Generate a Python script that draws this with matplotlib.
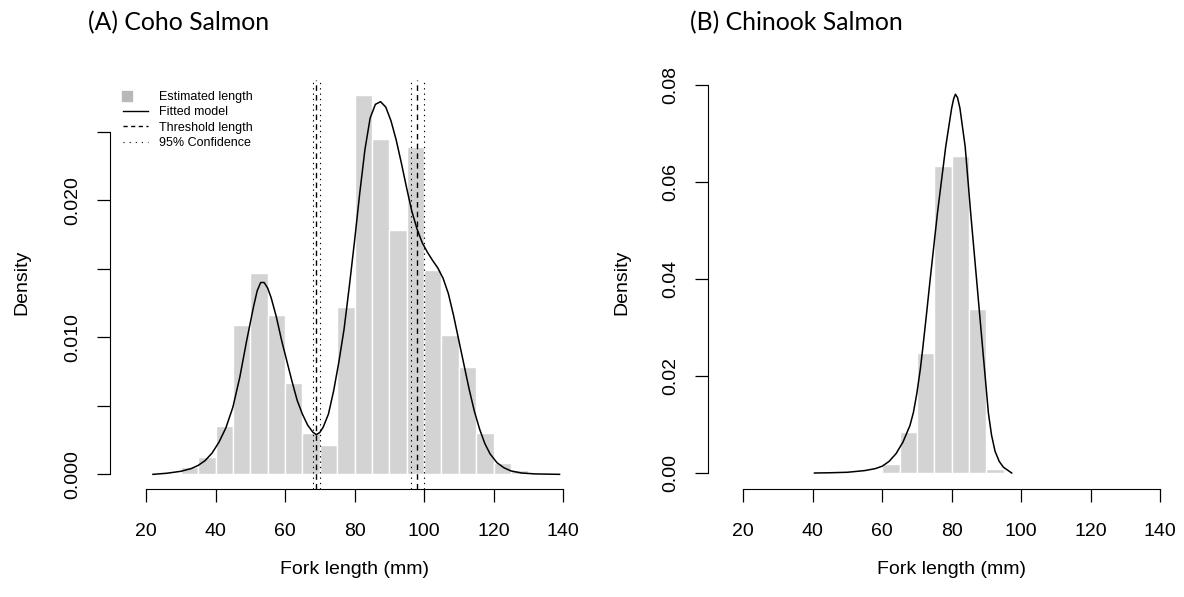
import numpy as np
import matplotlib
matplotlib.use("Agg")
from matplotlib import pyplot as plt
from matplotlib.lines import Line2D
from matplotlib.legend_handler import HandlerLine2D

plt.rcParams['font.family'] = ['Liberation Sans', 'DejaVu Sans']

# ---- data ----
bin_width = 5
coho_bin_starts = [30, 35, 40, 45, 50, 55, 60, 65, 70, 75, 80, 85, 90, 95, 100, 105, 110, 115, 120, 125]
coho_density = [0.00056, 0.00125, 0.0035, 0.0109, 0.0147, 0.0116, 0.00665, 0.00305, 0.00217, 0.0122,
                0.0277, 0.0245, 0.0178, 0.0239, 0.0149, 0.0102, 0.0078, 0.00305, 0.0008, 0.00032]

coho_curve_x = [22, 26, 30, 33, 35, 37, 39, 41, 43, 45, 47, 49, 51, 52, 53, 54, 55, 56, 57.5, 59,
                60.5, 62, 63.5, 65, 66.5, 68, 69, 70, 71, 72.5, 74, 75.5, 77, 78.5, 80, 81.5, 83,
                84.5, 86, 87.5, 89, 90.5, 92, 93.5, 95, 96.5, 98, 99.5, 101, 102.5, 104, 105.5,
                107, 108.5, 110, 111.5, 113, 114.5, 116, 117.5, 119, 121, 123, 125, 128, 132, 139]
coho_curve_y = [0.0, 0.00008, 0.00022, 0.00042, 0.00065, 0.001, 0.00155, 0.00235, 0.0034, 0.0049,
                0.0071, 0.0098, 0.0123, 0.0134, 0.0140, 0.0140, 0.0136, 0.0129, 0.0115, 0.0098,
                0.0083, 0.0068, 0.0054, 0.0044, 0.0036, 0.00308, 0.0029, 0.00305, 0.00345, 0.0044,
                0.0061, 0.0082, 0.0106, 0.0137, 0.0170, 0.0205, 0.0237, 0.0260, 0.0270, 0.0272,
                0.0268, 0.0258, 0.0244, 0.0227, 0.0209, 0.0192, 0.0179, 0.0169, 0.0162, 0.0156,
                0.01505, 0.0143, 0.0132, 0.0116, 0.0098, 0.008, 0.0062, 0.0046, 0.0033, 0.00225,
                0.0015, 0.00085, 0.00048, 0.00025, 0.0001, 0.00003, 0.0]

coho_threshold = [69.0, 98.0]
coho_ci = [68.1, 70.0, 96.2, 100.0]

chinook_bin_starts = [45, 50, 55, 60, 65, 70, 75, 80, 85, 90]
chinook_density = [0.0003, 0.0, 0.0, 0.0019, 0.0084, 0.0248, 0.0634, 0.0654, 0.0338, 0.0008]

chinook_curve_x = [40.5, 45, 50, 55, 58, 60, 62, 64, 66, 68, 69, 70, 71, 71.7, 72.8, 73.8, 75.9,
                   78.3, 80, 80.6, 81.1, 81.7, 82.4, 83.9, 85.5, 87.2, 88.9, 90.6, 91.5, 92.5,
                   93.7, 94.9, 97.3]
chinook_curve_y = [0.0, 0.00005, 0.00015, 0.0005, 0.0009, 0.0014, 0.0024, 0.0040, 0.0064, 0.0098,
                   0.0125, 0.0165, 0.0215, 0.0258, 0.0330, 0.0398, 0.0535, 0.0673, 0.0752, 0.0772,
                   0.0781, 0.0774, 0.0752, 0.0673, 0.0535, 0.0398, 0.0260, 0.0123, 0.0078, 0.0045,
                   0.0024, 0.0012, 0.0]

x_ticks = [20, 40, 60, 80, 100, 120, 140]
coho_yticks = [0, 0.005, 0.010, 0.015, 0.020, 0.025]
coho_ylabels = ['0.000', '', '0.010', '', '0.020', '']
chinook_yticks = [0, 0.02, 0.04, 0.06, 0.08]
chinook_ylabels = ['0.00', '0.02', '0.04', '0.06', '0.08']

BAR = '#d3d3d3'
FS = 14
W, H = 1184, 597


class LeftMarker(HandlerLine2D):
    # put the square near the left end of the handle, like R's legend()
    def create_artists(self, legend, orig_handle, xdescent, ydescent, width, height,
                       fontsize, trans):
        y = (height - ydescent) / 2
        mk = Line2D([-xdescent + 0.16 * width], [y])
        self.update_prop(mk, orig_handle, legend)
        mk.set_linestyle('none')
        mk.set_transform(trans)
        return [mk]


def style_axes(ax, yticks, ylabels):
    for s in ['top', 'right']:
        ax.spines[s].set_visible(False)
    ax.spines['bottom'].set_bounds(x_ticks[0], x_ticks[-1])
    ax.spines['left'].set_bounds(yticks[0], yticks[-1])
    ax.set_xticks(x_ticks)
    ax.set_yticks(yticks)
    ax.set_yticklabels(ylabels, rotation=90, va='center')
    ax.tick_params(direction='out', length=9.4, width=0.9, labelsize=FS, pad=11)
    ax.tick_params(axis='x', pad=15)
    ax.patch.set_visible(False)


fig = plt.figure(figsize=(W / 100, H / 100), dpi=100)

# left panel
ax1 = fig.add_axes([110 / W, (H - 489) / H, 488 / W, 409 / H])
ax1.bar(coho_bin_starts, coho_density, width=bin_width, align='edge', color=BAR,
        edgecolor='white', linewidth=1.0)
ax1.plot(coho_curve_x, coho_curve_y, color='black', lw=1.1)
for v in coho_threshold:
    ax1.axvline(v, color='black', lw=1.0, dashes=(4, 3))
for v in coho_ci:
    ax1.axvline(v, color='black', lw=0.8, dashes=(1.2, 3.6))
ax1.set_xlim(9.64, 150.07)
ax1.set_ylim(-0.00107, 0.02878)
style_axes(ax1, coho_yticks, coho_ylabels)

handles = [Line2D([], [], marker='s', color='#b8b8b8', ls='none', markersize=7),
           Line2D([], [], color='black', lw=1.0),
           Line2D([], [], color='black', lw=1.0, dashes=(3, 2.5)),
           Line2D([], [], color='black', lw=0.8, dashes=(1, 4.5))]
labels = ['Estimated length', 'Fitted model', 'Threshold length', '95% Confidence']
ax1.legend(handles, labels, loc='upper left', bbox_to_anchor=(123 / W, (H - 91) / H),
           bbox_transform=fig.transFigure, frameon=False, fontsize=9, borderpad=0,
           borderaxespad=0, handlelength=2.0, handletextpad=0.9, labelspacing=0.27,
           handler_map={handles[0]: LeftMarker()})

# right panel
ax2 = fig.add_axes([708 / W, (H - 489) / H, 476 / W, 419 / H])
ax2.bar(chinook_bin_starts, chinook_density, width=bin_width, align='edge', color=BAR,
        edgecolor='white', linewidth=1.0)
ax2.plot(chinook_curve_x, chinook_curve_y, color='black', lw=1.1)
ax2.set_xlim(9.83, 146.93)
ax2.set_ylim(-0.0033, 0.0831)
style_axes(ax2, chinook_yticks, chinook_ylabels)

# axis labels and panel titles
fig.text(354.5 / W, 1 - 570 / H, 'Fork length (mm)', ha='center', va='center', fontsize=FS)
fig.text(951.5 / W, 1 - 570 / H, 'Fork length (mm)', ha='center', va='center', fontsize=FS)
fig.text(22 / W, 1 - 282 / H, 'Density', ha='center', va='center', rotation=90, fontsize=FS)
fig.text(622 / W, 1 - 282 / H, 'Density', ha='center', va='center', rotation=90, fontsize=FS)
fig.text(88 / W, 1 - 23 / H, '(A) Coho Salmon', ha='left', va='center', fontsize=17.8,
         family=['Lato', 'DejaVu Sans'])
fig.text(690 / W, 1 - 23 / H, '(B) Chinook Salmon', ha='left', va='center', fontsize=17.8,
         family=['Lato', 'DejaVu Sans'])

fig.savefig('out.png', dpi=100)
